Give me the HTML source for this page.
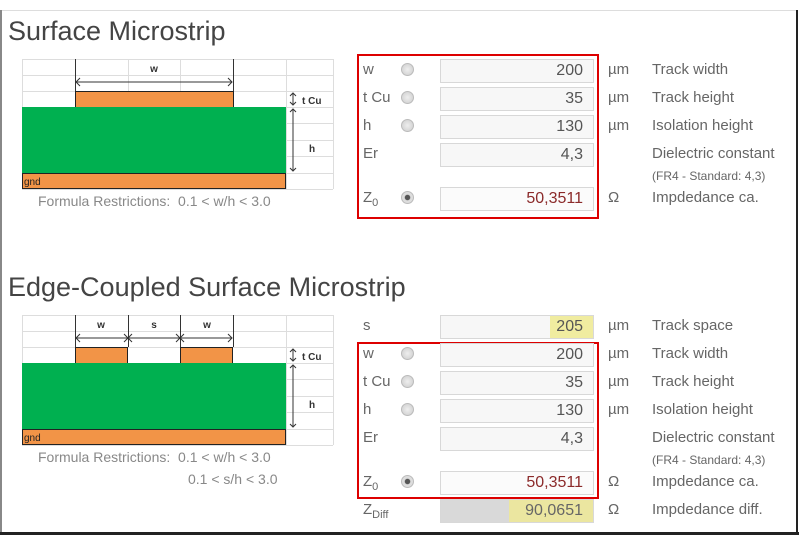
<!DOCTYPE html><html><head><style>
body{margin:0;width:799px;height:535px;background:#fff;font-family:"Liberation Sans",sans-serif;color:#555;position:relative;overflow:hidden}
div,span{position:absolute}
.t{font-size:27px;color:#444;left:8px;white-space:nowrap}
.lbl{font-size:15px;color:#666;left:363px}
.in{left:440px;width:152px;height:22px;border:1px solid #d8d8d8;background:#f7f7f7;text-align:right;font-size:16px;line-height:22px;color:#555}
.in b{font-weight:normal;padding-right:10px}
.rd{left:401px;width:11px;height:11px;border-radius:50%;border:1px solid #bbb;background:radial-gradient(#eee,#ccc)}
.u{left:608px;font-size:15px;color:#666}
.d{left:652px;font-size:15px;white-space:nowrap;color:#666}
.red{border:2px solid #d00;left:357px;width:238px}
.fr{font-size:14px;color:#888;white-space:nowrap}
</style></head><body>
<div style="left:0;top:10px;width:797px;height:1px;background:#ddd"></div>
<div style="left:0;top:10px;width:2px;height:525px;background:#888"></div>
<div style="left:796px;top:10px;width:2px;height:525px;background:#222"></div>
<div style="left:0;top:532px;width:799px;height:3px;background:#222"></div>

<div class="t" style="top:16px">Surface Microstrip</div>
<svg style="position:absolute;left:0;top:0" width="799" height="535">
<defs><g id="grid" stroke="#ddd" stroke-width="1">
<path d="M22 0.5H333M22 16.5H333M22 32.5H333M22 48.5H333M22 64.5H333M22 81.5H333M22 97.5H333M22 114.5H333M22 130.5H333M22.5 0V130M286.5 0V130M333.5 0V130M128.5 0V32M180.5 0V32"/>
</g></defs>
<g transform="translate(0,59)"><use href="#grid"/>
<path d="M75.5 0V32M233.5 0V32" stroke="#333"/>
<path d="M76 23H232M80 19L76 23L80 27M228 19L232 23L228 27" stroke="#333" fill="none"/>
<text x="154" y="13" font-size="10" font-weight="bold" fill="#333" text-anchor="middle" font-family="Liberation Sans">w</text>
<rect x="75.5" y="32.5" width="158" height="16" fill="#f29447" stroke="#222"/>
<rect x="22" y="48" width="264" height="66" fill="#00b050"/>
<rect x="22.5" y="114.5" width="263" height="15" fill="#f29447" stroke="#222"/>
<text x="24" y="126" font-size="10" fill="#222" font-family="Liberation Sans">gnd</text>
<path d="M293 34V46M290 37L293 34L296 37M290 43L293 46L296 43M293 50V112M290 53L293 50L296 53M290 109L293 112L296 109" stroke="#333" fill="none"/>
<text x="302" y="45" font-size="10" font-weight="bold" fill="#333" font-family="Liberation Sans">t Cu</text>
<text x="309" y="93" font-size="10" font-weight="bold" fill="#333" font-family="Liberation Sans">h</text>
</g>
<g transform="translate(0,315)"><use href="#grid"/>
<path d="M75.5 0V32M128.5 0V32M180.5 0V32M233.5 0V32" stroke="#333"/>
<path d="M76 23H232M80 19L76 23L80 27M124 19L128 23L124 27M132 19L128 23L132 27M176 19L180 23L176 27M184 19L180 23L184 27M228 19L232 23L228 27" stroke="#333" fill="none"/>
<text x="101" y="13" font-size="10" font-weight="bold" fill="#333" text-anchor="middle" font-family="Liberation Sans">w</text>
<text x="154" y="13" font-size="10" font-weight="bold" fill="#333" text-anchor="middle" font-family="Liberation Sans">s</text>
<text x="207" y="13" font-size="10" font-weight="bold" fill="#333" text-anchor="middle" font-family="Liberation Sans">w</text>
<rect x="75.5" y="32.5" width="52" height="16" fill="#f29447" stroke="#222"/>
<rect x="180.5" y="32.5" width="52" height="16" fill="#f29447" stroke="#222"/>
<rect x="22" y="48" width="264" height="66" fill="#00b050"/>
<rect x="22.5" y="114.5" width="263" height="15" fill="#f29447" stroke="#222"/>
<text x="24" y="126" font-size="10" fill="#222" font-family="Liberation Sans">gnd</text>
<path d="M293 34V46M290 37L293 34L296 37M290 43L293 46L296 43M293 50V112M290 53L293 50L296 53M290 109L293 112L296 109" stroke="#333" fill="none"/>
<text x="302" y="45" font-size="10" font-weight="bold" fill="#333" font-family="Liberation Sans">t Cu</text>
<text x="309" y="93" font-size="10" font-weight="bold" fill="#333" font-family="Liberation Sans">h</text>
</g>
</svg>
<div class="fr" style="left:38px;top:193px">Formula Restrictions:&nbsp; 0.1 &lt; w/h &lt; 3.0</div>

<div class="red" style="top:54px;height:161px"></div>
<div class="lbl" style="top:61px">w</div><div class="rd" style="top:63px"></div><div class="in" style="top:59px"><b>200</b></div><div class="u" style="top:61px">µm</div><div class="d" style="top:61px">Track width</div>
<div class="lbl" style="top:89px">t Cu</div><div class="rd" style="top:91px"></div><div class="in" style="top:87px"><b>35</b></div><div class="u" style="top:89px">µm</div><div class="d" style="top:89px">Track height</div>
<div class="lbl" style="top:117px">h</div><div class="rd" style="top:119px"></div><div class="in" style="top:115px"><b>130</b></div><div class="u" style="top:117px">µm</div><div class="d" style="top:117px">Isolation height</div>
<div class="lbl" style="top:145px">Er</div><div class="in" style="top:143px"><b>4,3</b></div><div class="d" style="top:145px">Dielectric constant</div>
<div class="d" style="top:169px;font-size:12px">(FR4 - Standard: 4,3)</div>
<div class="lbl" style="top:189px">Z<sub style="font-size:11px">0</sub></div><div class="rd" style="top:191px;background:radial-gradient(#555 30%,#ddd 40%)"></div><div class="in" style="top:187px;background:#fbfbfb;color:#8b2a2a"><b>50,3511</b></div><div class="u" style="top:189px">Ω</div><div class="d" style="top:189px">Impdedance ca.</div>

<div class="t" style="top:272px">Edge-Coupled Surface Microstrip</div>
<div class="fr" style="left:38px;top:449px">Formula Restrictions:&nbsp; 0.1 &lt; w/h &lt; 3.0</div>
<div class="fr" style="left:188px;top:471px">0.1 &lt; s/h &lt; 3.0</div>

<div class="lbl" style="top:317px">s</div><div class="in" style="top:315px"><b style="background:#f0eca0;padding:0 10px 0 6px;position:absolute;right:0;top:0">205</b></div><div class="u" style="top:317px">µm</div><div class="d" style="top:317px">Track space</div>
<div class="red" style="top:342px;height:153px"></div>
<div class="lbl" style="top:345px">w</div><div class="rd" style="top:347px"></div><div class="in" style="top:343px"><b>200</b></div><div class="u" style="top:345px">µm</div><div class="d" style="top:345px">Track width</div>
<div class="lbl" style="top:373px">t Cu</div><div class="rd" style="top:375px"></div><div class="in" style="top:371px"><b>35</b></div><div class="u" style="top:373px">µm</div><div class="d" style="top:373px">Track height</div>
<div class="lbl" style="top:401px">h</div><div class="rd" style="top:403px"></div><div class="in" style="top:399px"><b>130</b></div><div class="u" style="top:401px">µm</div><div class="d" style="top:401px">Isolation height</div>
<div class="lbl" style="top:429px">Er</div><div class="in" style="top:427px"><b>4,3</b></div><div class="d" style="top:429px">Dielectric constant</div>
<div class="d" style="top:453px;font-size:12px">(FR4 - Standard: 4,3)</div>
<div class="lbl" style="top:473px">Z<sub style="font-size:11px">0</sub></div><div class="rd" style="top:475px;background:radial-gradient(#555 30%,#ddd 40%)"></div><div class="in" style="top:471px;background:#fbfbfb;color:#8b2a2a"><b>50,3511</b></div><div class="u" style="top:473px">Ω</div><div class="d" style="top:473px">Impdedance ca.</div>
<div class="lbl" style="top:501px">Z<sub style="font-size:11px">Diff</sub></div><div class="in" style="top:499px;background:#d9d9d9;color:#666"><b style="background:#ebe6a0;padding:0 10px 0 16px;position:absolute;right:0;top:0">90,0651</b></div><div class="u" style="top:501px">Ω</div><div class="d" style="top:501px">Impdedance diff.</div>
</body></html>
